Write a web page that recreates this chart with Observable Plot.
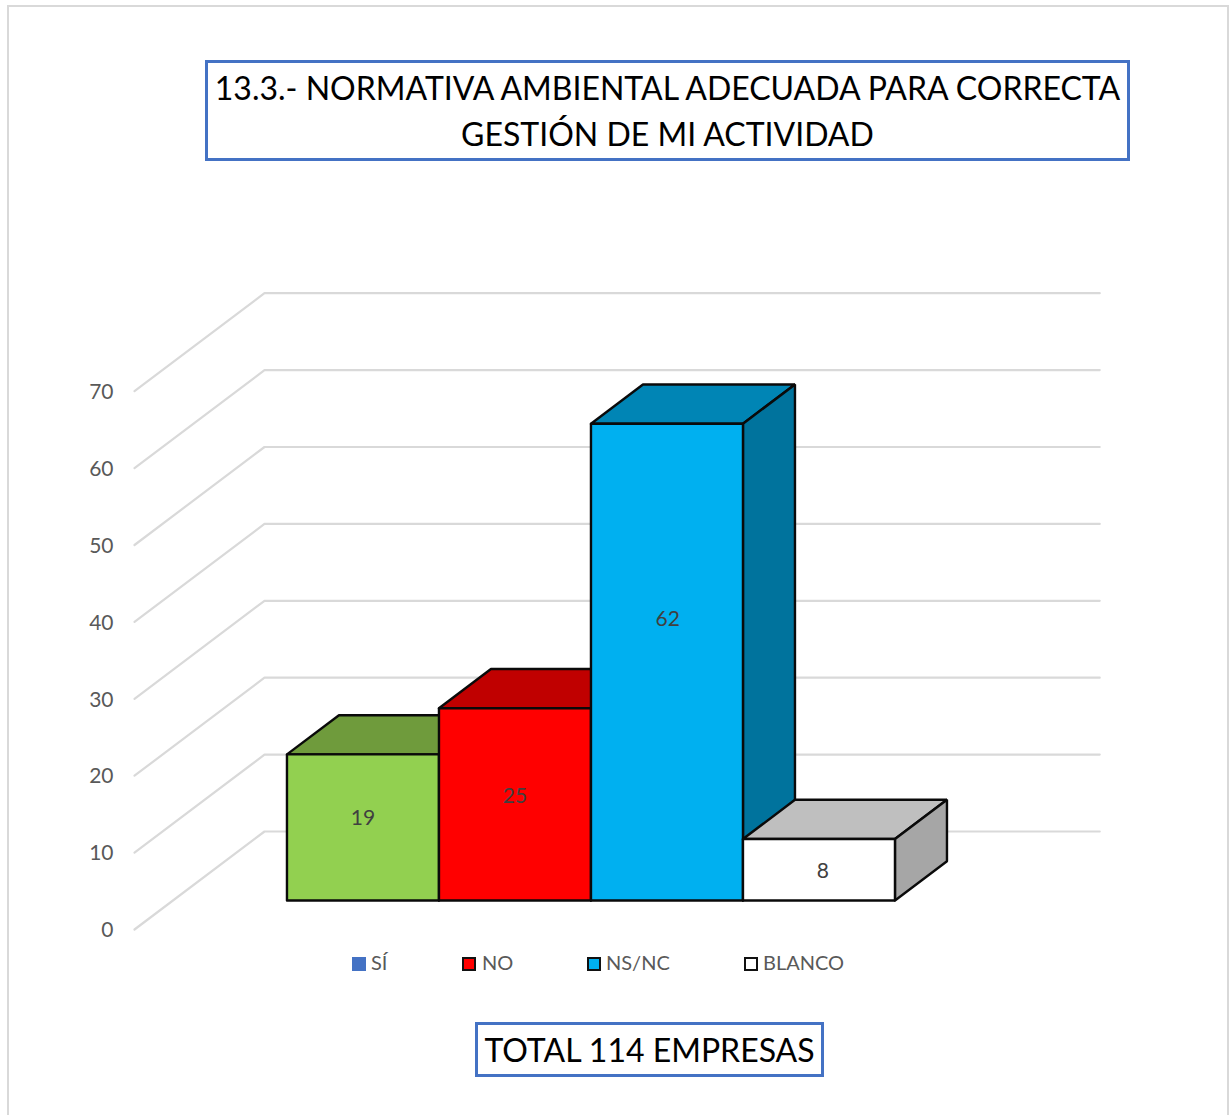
<!DOCTYPE html>
<html lang="es">
<head>
<meta charset="utf-8">
<script src="https://cdn.jsdelivr.net/npm/d3@7"></script>
<script src="https://cdn.jsdelivr.net/npm/@observablehq/plot@0.6"></script>
<style>
  html,body{margin:0;padding:0;background:#fff;overflow:hidden}
  #page{position:relative;width:1229px;height:1115px;font-family:Lato,"Open Sans",sans-serif}
  #frame{position:absolute;left:7px;top:5px;width:1222px;height:1120px;border:2px solid #d9d9d9;box-sizing:border-box}
  .box{position:absolute;box-sizing:border-box;border:3px solid #4472c4;background:#fff;color:#000;text-align:center;white-space:nowrap}
  #title{left:205px;top:60px;width:925px;height:101px;font-size:32px;line-height:46px;padding-top:2px}
  #caption{left:475px;top:1022px;width:349px;height:55px;font-size:32px;line-height:49px}
  #chart{position:absolute;left:0;top:280px}
  .lg{position:absolute;top:950px;font-size:20px;line-height:24px;color:#595959}
  .sw{position:absolute;top:957px;width:14px;height:14px;box-sizing:border-box}
</style>
</head>
<body>
<div id="page">
  <div id="frame"></div>
  <div id="title" class="box">13.3.- NORMATIVA AMBIENTAL ADECUADA PARA CORRECTA<br>GESTIÓN DE MI ACTIVIDAD</div>
  <div id="chart"></div>
  <div id="legend"></div>
  <div id="caption" class="box">TOTAL 114 EMPRESAS</div>
</div>
<script>
// Data
const categories = ["SÍ", "NO", "NS/NC", "BLANCO"];
const values = [19, 25, 62, 8];
const yTicks = [0, 10, 20, 30, 40, 50, 60, 70];

// Styles
const frontColors = ["#92d050", "#ff0000", "#00b0f0", "#ffffff"];
const topColors = ["#6f9b3c", "#c00000", "#0085b5", "#bfbfbf"];
const sideColors = ["#5d8232", "#a00000", "#00739d", "#a6a6a6"];
const legendColors = ["#4472c4", "#ff0000", "#00b0f0", "#ffffff"];
const legendSwatchX = [352, 462, 587, 744];
const legendTextX = [371, 482, 606, 763];

// Oblique projection: full floor depth in axis units
const depthX = 130 / 152;   // category units
const depthY = 98 / 7.69;   // value units
const barD0 = 29 / 98, barD1 = barD0 + 0.4;
const P = (u, v, d) => ({x: u + d * depthX, y: v + d * depthY});

// Label placement within each bar (share of height, horizontal nudge)
const labelShare = [0.561, 0.541, 0.589, 0.474];
const labelNudge = [0, 0, 0.005, 0.025];

const marks = [];

// Wall gridlines
for (const t of yTicks) {
  marks.push(Plot.line([P(-0.75, t, 0), P(-0.75, t, 1), P(4.745, t, 1)],
    {x: "x", y: "y", stroke: "#d9d9d9", strokeWidth: 2.2, strokeLinejoin: "miter"}));
}

// Y axis labels
marks.push(Plot.axisY({
  ticks: yTicks, tickSize: 0, tickPadding: 21, label: null,
  fontSize: 21, color: "#595959", fill: "#595959", dy: 1, anchor: "left"
}));

const face = (pts, fill) => Plot.line([...pts, pts[0]], {
  x: "x", y: "y", fill, stroke: "#0a0a0a", strokeWidth: 2.4, strokeLinejoin: "miter"
});

values.forEach((v, i) => {
  const a = i, b = i + 1;
  marks.push(face([P(a, v, barD0), P(b, v, barD0), P(b, v, barD1), P(a, v, barD1)], topColors[i]));
  marks.push(face([P(b, 0, barD0), P(b, v, barD0), P(b, v, barD1), P(b, 0, barD1)], sideColors[i]));
  marks.push(face([P(a, 0, barD0), P(b, 0, barD0), P(b, v, barD0), P(a, v, barD0)], frontColors[i]));
});

// Value labels
marks.push(Plot.text(values.map((v, i) => ({
  ...P(i + 0.5 + labelNudge[i], v * labelShare[i], barD0), v
})), {x: "x", y: "y", text: d => String(d.v), fontSize: 21, fill: "#404040"}));

const W = 1229, H = 660, svgTop = 280, zeroRow = 929;
const px = p => (p - 248) / 152;
const chart = Plot.plot({
  width: W, height: H,
  marginLeft: 134, marginRight: 0, marginTop: 0, marginBottom: 0,
  style: {background: "transparent", fontFamily: "Lato, 'Open Sans', sans-serif"},
  x: {domain: [px(134), px(W)], range: [134, W], axis: null},
  y: {domain: [(zeroRow - (svgTop + H)) / 7.69, (zeroRow - svgTop) / 7.69], range: [H, 0], axis: null},
  marks
});
document.getElementById("chart").append(chart);

// Legend
const legend = document.getElementById("legend");
categories.forEach((c, i) => {
  const s = document.createElement("div");
  s.className = "sw";
  s.style.left = legendSwatchX[i] + "px";
  s.style.background = legendColors[i];
  if (i > 0) s.style.border = "2px solid #111";
  const t = document.createElement("div");
  t.className = "lg";
  t.style.left = legendTextX[i] + "px";
  t.textContent = c;
  legend.append(s, t);
});
</script>
</body>
</html>
